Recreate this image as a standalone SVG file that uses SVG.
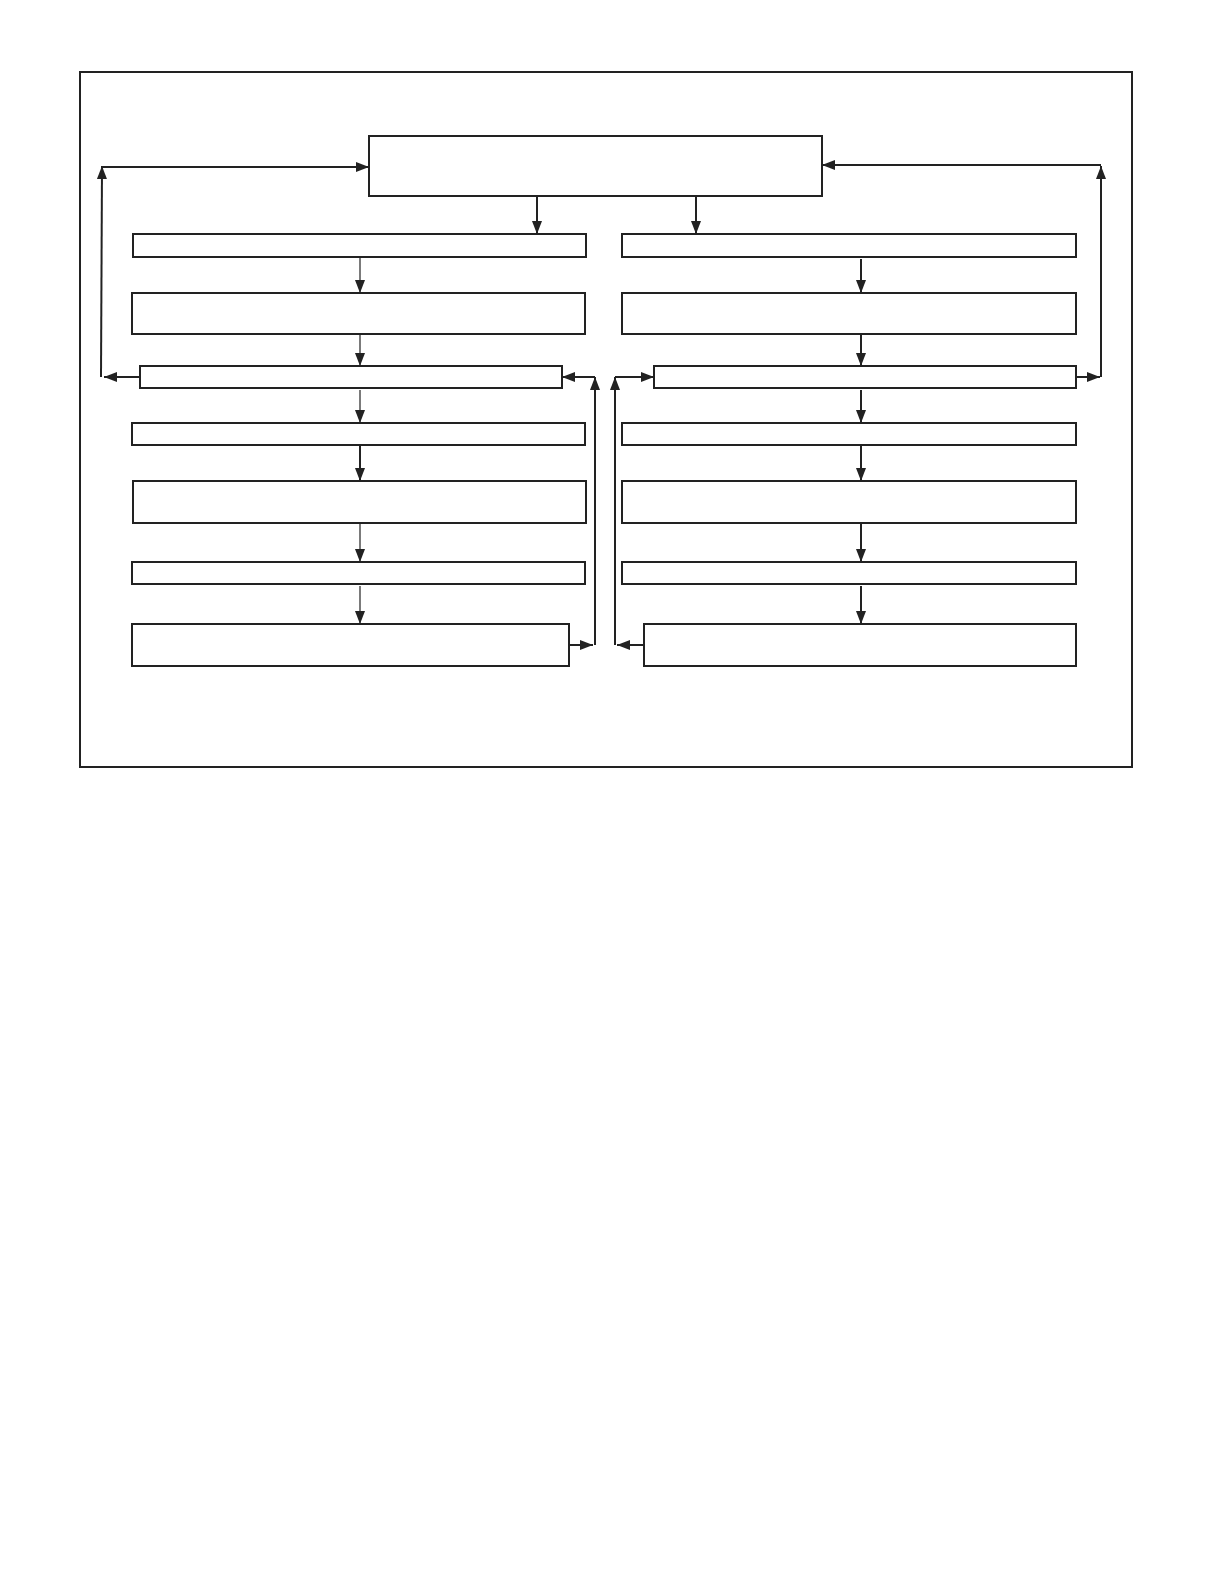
<svg xmlns="http://www.w3.org/2000/svg" width="1224" height="1584" viewBox="0 0 1224 1584">
<style>
.box{fill:#fff;stroke:#222;stroke-width:2}
.c{fill:none;stroke:#222;stroke-width:2}
.t{fill:none;stroke:#222;stroke-width:1.2}
</style>
<defs>
<marker id="ah" markerUnits="userSpaceOnUse" markerWidth="14" markerHeight="10" refX="13" refY="5" orient="auto"><path d="M0,0 L13,5 L0,10 z" fill="#222"/></marker>
</defs>
<rect x="0" y="0" width="1224" height="1584" fill="#fff"/>
<rect id="frame" x="80" y="72" width="1052" height="695" fill="none" stroke="#222" stroke-width="2"/>
<g id="top"><rect class="box" x="369" y="136" width="453" height="60"/></g>
<g id="L1"><rect class="box" x="133" y="234" width="453" height="23"/></g>
<g id="L2"><rect class="box" x="132" y="293" width="453" height="41"/></g>
<g id="L3"><rect class="box" x="140" y="366" width="422" height="22"/></g>
<g id="L4"><rect class="box" x="132" y="423" width="453" height="22"/></g>
<g id="L5"><rect class="box" x="133" y="481" width="453" height="42"/></g>
<g id="L6"><rect class="box" x="132" y="562" width="453" height="22"/></g>
<g id="L7"><rect class="box" x="132" y="624" width="437" height="42"/></g>
<g id="R1"><rect class="box" x="622" y="234" width="454" height="23"/></g>
<g id="R2"><rect class="box" x="622" y="293" width="454" height="41"/></g>
<g id="R3"><rect class="box" x="654" y="366" width="422" height="22"/></g>
<g id="R4"><rect class="box" x="622" y="423" width="454" height="22"/></g>
<g id="R5"><rect class="box" x="622" y="481" width="454" height="42"/></g>
<g id="R6"><rect class="box" x="622" y="562" width="454" height="22"/></g>
<g id="R7"><rect class="box" x="644" y="624" width="432" height="42"/></g>
<g id="connectors">
<path class="c" d="M537,196 V234" marker-end="url(#ah)"/>
<path class="c" d="M696,196 V234" marker-end="url(#ah)"/>
<path class="t" d="M360,257 V293" marker-end="url(#ah)"/>
<path class="t" d="M360,334 V366" marker-end="url(#ah)"/>
<path class="t" d="M360,390 V423" marker-end="url(#ah)"/>
<path class="c" d="M360,445 V481" marker-end="url(#ah)"/>
<path class="t" d="M360,523 V562" marker-end="url(#ah)"/>
<path class="t" d="M360,586 V624" marker-end="url(#ah)"/>
<path class="c" d="M861,259 V293" marker-end="url(#ah)"/>
<path class="c" d="M861,334 V366" marker-end="url(#ah)"/>
<path class="c" d="M861,390 V423" marker-end="url(#ah)"/>
<path class="c" d="M861,445 V481" marker-end="url(#ah)"/>
<path class="c" d="M861,523 V562" marker-end="url(#ah)"/>
<path class="c" d="M861,586 V624" marker-end="url(#ah)"/>
<path class="c" d="M139,377 H104" marker-end="url(#ah)"/>
<path class="c" d="M101,377 L102,166" marker-end="url(#ah)"/>
<path class="c" d="M102,167 H369" marker-end="url(#ah)"/>
<path class="c" d="M1076,377 H1100" marker-end="url(#ah)"/>
<path class="c" d="M1101,377 V166" marker-end="url(#ah)"/>
<path class="c" d="M1101,165 H822" marker-end="url(#ah)"/>
<path class="c" d="M569,645 H593" marker-end="url(#ah)"/>
<path class="c" d="M595,645 V377" marker-end="url(#ah)"/>
<path class="c" d="M595,377 H562" marker-end="url(#ah)"/>
<path class="c" d="M644,645 H617" marker-end="url(#ah)"/>
<path class="c" d="M615,645 V377" marker-end="url(#ah)"/>
<path class="c" d="M615,377 H654" marker-end="url(#ah)"/>
</g>
</svg>
